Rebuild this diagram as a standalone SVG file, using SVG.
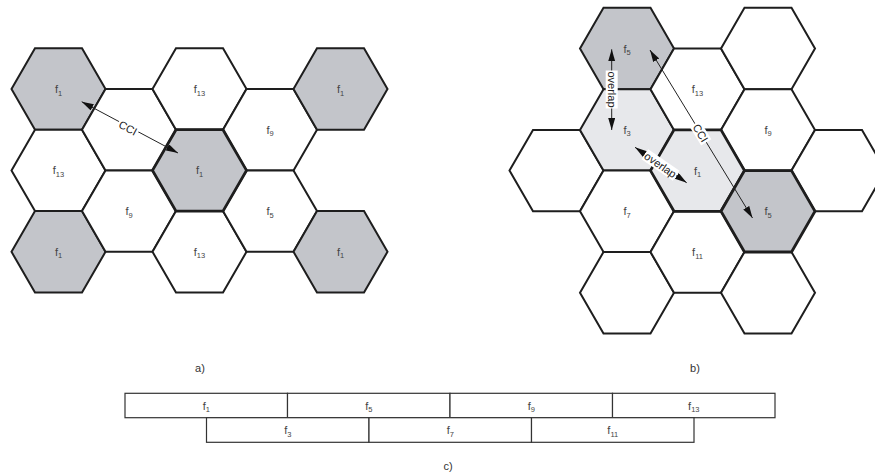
<svg xmlns="http://www.w3.org/2000/svg" xmlns:xlink="http://www.w3.org/1999/xlink" width="875" height="472" viewBox="0 0 875 472">
<style>
.hex{stroke:#1e1e1e;stroke-width:2;stroke-linejoin:miter}
.w{fill:#ffffff}
.g{fill:#c3c5ca}
.l{fill:#e7e8eb}
.thick{stroke-width:2.8}
.lbl{font-family:"Liberation Sans",Arial,sans-serif;font-size:11px;fill:#444;text-anchor:middle}
.sub{font-size:7.5px}
.note{font-family:"Liberation Sans",Arial,sans-serif;font-size:11px;fill:#222;text-anchor:middle}
.cap{font-family:"Liberation Sans",Arial,sans-serif;font-size:11px;fill:#333;text-anchor:middle}
.arr{stroke:#222;stroke-width:1;fill:none;marker-start:url(#ah);marker-end:url(#ah)}
.cell{fill:#fff;stroke:#333;stroke-width:1.2}
.bg{fill:#fff}
</style>
<defs>
<path id="hx" d="M-47,0 L-23.5,-40.7 L23.5,-40.7 L47,0 L23.5,40.7 L-23.5,40.7 Z"/>
<marker id="ah" markerWidth="12" markerHeight="8" refX="12" refY="3.5" orient="auto-start-reverse" markerUnits="userSpaceOnUse">
<path d="M0,0 L12,3.5 L0,7 Z" fill="#111"/>
</marker>
</defs>

<!-- Panel a -->
<g id="a1"><use xlink:href="#hx" x="58.5" y="89" class="hex g"/><text class="lbl" x="58.5" y="93">f<tspan class="sub" dy="2.5">1</tspan></text></g>
<g id="a2"><use xlink:href="#hx" x="58.5" y="170.4" class="hex w"/><text class="lbl" x="58.5" y="174.4">f<tspan class="sub" dy="2.5">13</tspan></text></g>
<g id="a3"><use xlink:href="#hx" x="58.5" y="251.8" class="hex g"/><text class="lbl" x="58.5" y="255.8">f<tspan class="sub" dy="2.5">1</tspan></text></g>
<g id="a4"><use xlink:href="#hx" x="129" y="129.7" class="hex w"/></g>
<g id="a5"><use xlink:href="#hx" x="129" y="211.1" class="hex w"/><text class="lbl" x="129" y="215.1">f<tspan class="sub" dy="2.5">9</tspan></text></g>
<g id="a6"><use xlink:href="#hx" x="199.5" y="89" class="hex w"/><text class="lbl" x="199.5" y="93">f<tspan class="sub" dy="2.5">13</tspan></text></g>
<g id="a7"><use xlink:href="#hx" x="199.5" y="251.8" class="hex w"/><text class="lbl" x="199.5" y="255.8">f<tspan class="sub" dy="2.5">13</tspan></text></g>
<g id="a8"><use xlink:href="#hx" x="270" y="129.7" class="hex w"/><text class="lbl" x="270" y="133.7">f<tspan class="sub" dy="2.5">9</tspan></text></g>
<g id="a9"><use xlink:href="#hx" x="270" y="211.1" class="hex w"/><text class="lbl" x="270" y="215.1">f<tspan class="sub" dy="2.5">5</tspan></text></g>
<g id="a10"><use xlink:href="#hx" x="340.5" y="89" class="hex g"/><text class="lbl" x="340.5" y="93">f<tspan class="sub" dy="2.5">1</tspan></text></g>
<g id="a11"><use xlink:href="#hx" x="340.5" y="251.8" class="hex g"/><text class="lbl" x="340.5" y="255.8">f<tspan class="sub" dy="2.5">1</tspan></text></g>
<g id="a12"><use xlink:href="#hx" x="199.5" y="170.4" class="hex g thick"/><text class="lbl" x="199.5" y="174.4">f<tspan class="sub" dy="2.5">1</tspan></text></g>

<!-- Panel b -->
<g id="b1"><use xlink:href="#hx" x="556.5" y="170.6" class="hex w"/></g>
<g id="b2"><use xlink:href="#hx" x="627" y="48.5" class="hex g"/><text class="lbl" x="627" y="52.5">f<tspan class="sub" dy="2.5">5</tspan></text></g>
<g id="b3"><use xlink:href="#hx" x="627" y="129.9" class="hex l"/><text class="lbl" x="627" y="133.9">f<tspan class="sub" dy="2.5">3</tspan></text></g>
<g id="b4"><use xlink:href="#hx" x="627" y="211.3" class="hex w"/><text class="lbl" x="627" y="215.3">f<tspan class="sub" dy="2.5">7</tspan></text></g>
<g id="b5"><use xlink:href="#hx" x="627" y="292.7" class="hex w"/></g>
<g id="b6"><use xlink:href="#hx" x="697.5" y="89.2" class="hex w"/><text class="lbl" x="697.5" y="93.2">f<tspan class="sub" dy="2.5">13</tspan></text></g>
<g id="b8"><use xlink:href="#hx" x="697.5" y="252" class="hex w"/><text class="lbl" x="697.5" y="256">f<tspan class="sub" dy="2.5">11</tspan></text></g>
<g id="b9"><use xlink:href="#hx" x="768" y="48.5" class="hex w"/></g>
<g id="b10"><use xlink:href="#hx" x="768" y="129.9" class="hex w"/><text class="lbl" x="768" y="133.9">f<tspan class="sub" dy="2.5">9</tspan></text></g>
<g id="b12"><use xlink:href="#hx" x="768" y="292.7" class="hex w"/></g>
<g id="b13"><use xlink:href="#hx" x="838.5" y="170.6" class="hex w"/></g>
<g id="b7"><use xlink:href="#hx" x="697.5" y="170.6" class="hex l thick"/><text class="lbl" x="697.5" y="174.6">f<tspan class="sub" dy="2.5">1</tspan></text></g>
<g id="b11"><use xlink:href="#hx" x="768" y="211.3" class="hex g thick"/><text class="lbl" x="768" y="215.3">f<tspan class="sub" dy="2.5">5</tspan></text></g>

<!-- Panel c -->
<g id="c1"><rect class="cell" x="125" y="393.3" width="162.5" height="24.4"/><text class="lbl" x="206.3" y="409.5">f<tspan class="sub" dy="2.5">1</tspan></text></g>
<g id="c5"><rect class="cell" x="287.5" y="393.3" width="162.5" height="24.4"/><text class="lbl" x="368.8" y="409.5">f<tspan class="sub" dy="2.5">5</tspan></text></g>
<g id="c9"><rect class="cell" x="450" y="393.3" width="162.5" height="24.4"/><text class="lbl" x="531.3" y="409.5">f<tspan class="sub" dy="2.5">9</tspan></text></g>
<g id="c13"><rect class="cell" x="612.5" y="393.3" width="162.5" height="24.4"/><text class="lbl" x="693.8" y="409.5">f<tspan class="sub" dy="2.5">13</tspan></text></g>
<g id="c3"><rect class="cell" x="206.5" y="417.7" width="162.5" height="24.6"/><text class="lbl" x="287.8" y="434">f<tspan class="sub" dy="2.5">3</tspan></text></g>
<g id="c7"><rect class="cell" x="369" y="417.7" width="162.5" height="24.6"/><text class="lbl" x="450.3" y="434">f<tspan class="sub" dy="2.5">7</tspan></text></g>
<g id="c11"><rect class="cell" x="531.5" y="417.7" width="162.5" height="24.6"/><text class="lbl" x="612.8" y="434">f<tspan class="sub" dy="2.5">11</tspan></text></g>

<!-- Connectors -->
<g id="connectors">
<line class="arr" x1="81.7" y1="101.7" x2="178" y2="153"/>
<g transform="translate(128,128) rotate(28)"><rect class="bg" x="-11" y="-6" width="22" height="12"/><text class="note" x="0" y="4">CCI</text></g>

<line class="arr" x1="611.7" y1="49.3" x2="611.7" y2="130"/>
<g transform="translate(611.7,89.5) rotate(90)"><rect class="bg" x="-19" y="-6" width="38" height="12"/><text class="note" x="0" y="4">overlap</text></g>

<line class="arr" x1="635" y1="147.3" x2="686.7" y2="182.7"/>
<g transform="translate(660.5,165) rotate(34.4)"><rect class="bg" x="-19" y="-6" width="38" height="12"/><text class="note" x="0" y="4">overlap</text></g>

<line class="arr" x1="650" y1="50" x2="752.5" y2="218"/>
<g transform="translate(700.5,133) rotate(58.6)"><rect class="bg" x="-11" y="-6" width="22" height="12"/><text class="note" x="0" y="4">CCI</text></g>
</g>

<text class="cap" x="200" y="372">a)</text>
<text class="cap" x="695" y="372">b)</text>
<text class="cap" x="448" y="469.5">c)</text>
</svg>
